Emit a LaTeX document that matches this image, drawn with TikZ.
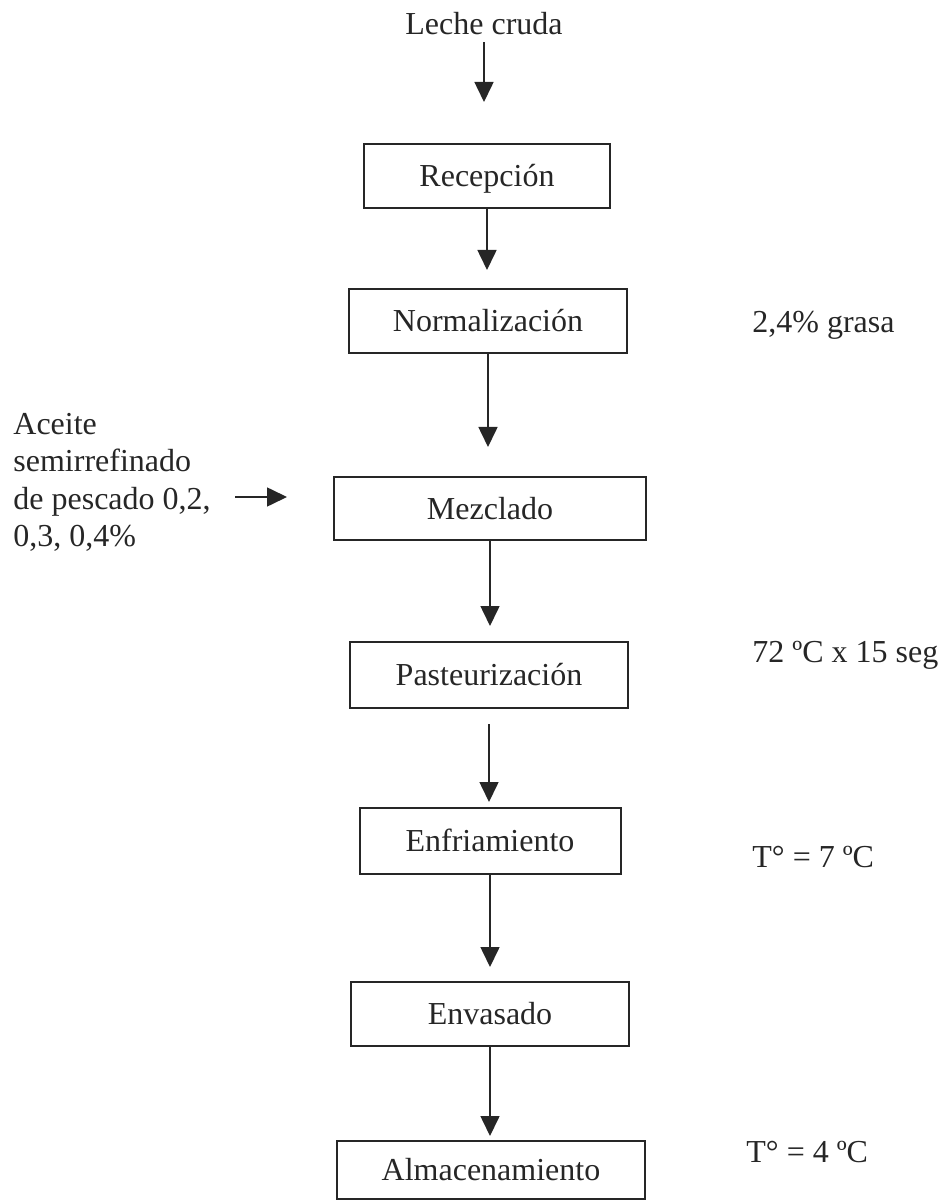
\documentclass[tikz,border=0pt]{standalone}
\usepackage{fontspec}
\setmainfont{Liberation Serif}
\usepackage{tikz}
\usetikzlibrary{positioning,arrows.meta,calc}

\begin{document}
\begin{tikzpicture}[x=0.5pt,y=-0.5pt,color=black!85,
   paso/.style={draw,line width=1pt,minimum width=#1,minimum height=32pt,inner sep=0pt,
   text height=10.9pt,text depth=0pt,font=\fontsize{16}{18.65}\selectfont},
   paso/.default=139pt,
   flecha/.style={-{Triangle[length=10pt,width=9.5pt]},line width=0.8pt},
   nota/.style={anchor=base west,inner sep=0pt,font=\fontsize{16}{18.65}\selectfont}]
 \useasboundingbox (0,0) rectangle (945,1202);

 % etapas del proceso
 \node[nota,anchor=base,text depth=0pt] (leche) at (484,35) {Leche cruda};
 \node[paso=123pt] (rec) at (487,176) {Recepción};
 \node[paso] (norm) at (488,321) {Normalización};
 \node[paso=156pt,minimum height=31.5pt] (mez) at (490,508.5) {Mezclado};
 \node[paso,minimum height=33pt] (past) at (489,675) {Pasteurización};
 \node[paso=130.5pt,minimum height=33pt] (enf) at (490,841) {Enfriamiento};
 \node[paso] (env) at (490,1014) {Envasado};
 \node[paso=154pt,minimum height=29pt] (alm) at (491,1170) {Almacenamiento};

 % condiciones
 \node[nota] (grasa) at (752,333) {2,4\% grasa};
 \node[nota] (temp1) at (752,662) {72 ºC x 15 seg};
 \node[nota] (temp2) at (752,867) {T° = 7 ºC};
 \node[nota] (temp3) at (746,1162) {T° = 4 ºC};
 \node[nota,anchor=north west,align=left] (aceite) at (13,413)
   {Aceite\\semirrefinado\\de pescado 0,2,\\0,3, 0,4\%};

 \draw[flecha,shorten <=3.5pt,shorten >=20.5pt] (leche.south) -- (leche.south |- rec.north);
 \draw[flecha,shorten >=9pt] (rec) -- (rec |- norm.north);
 \draw[flecha,shorten >=14.5pt] (norm) -- (norm |- mez.north);
 \draw[flecha,shorten >=7.5pt] (mez) -- (mez |- past.north);
 \draw[flecha,shorten <=7.5pt,shorten >=2.5pt] (past) -- (past |- enf.north);
 \draw[flecha,shorten >=7pt] (enf) -- (enf |- env.north);
 \draw[flecha,shorten >=2pt] (env) -- (env |- alm.north);

 \coordinate (entrada) at (288,497);
 \draw[flecha,shorten <=12pt,shorten >=23pt] (aceite.east |- entrada) -- (mez.west |- entrada);
\end{tikzpicture}
\end{document}
